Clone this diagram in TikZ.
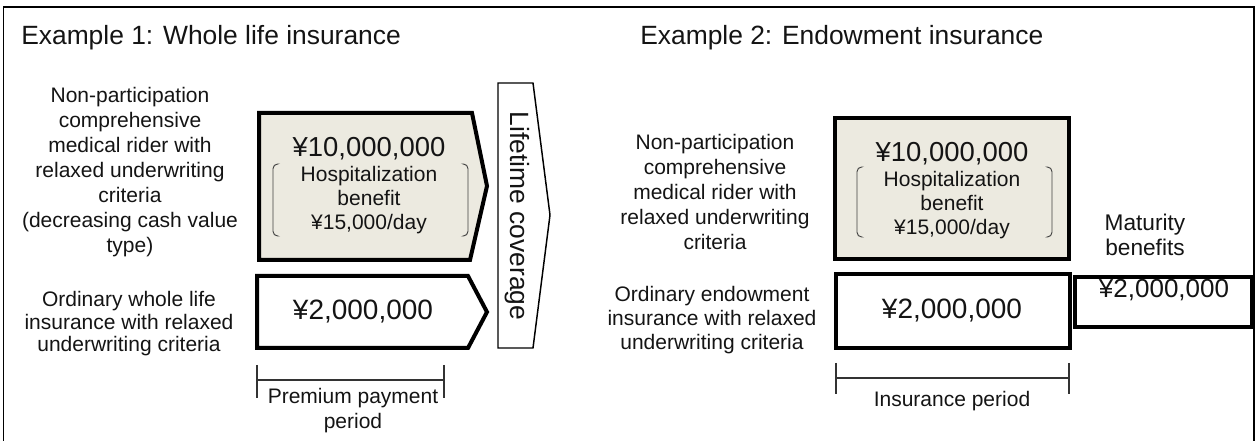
\documentclass[tikz,border=0pt]{standalone}
\usepackage{fontspec}
\setmainfont{Liberation Sans}
\definecolor{beige}{RGB}{236,234,224}
\definecolor{ink}{RGB}{20,20,20}
\begin{document}
\begin{tikzpicture}[x=0.75pt,y=-0.75pt,
  every node/.style={inner sep=0pt, text=ink},
  titlelbl/.style={anchor=west, font=\fontsize{19.8}{23}\selectfont},
  sidelbl/.style={align=center, font=\fontsize{15.75}{18.75}\selectfont},
  sidelbltight/.style={align=center, font=\fontsize{15.75}{16.9}\selectfont},
  sidelblmid/.style={align=center, font=\fontsize{15.75}{18}\selectfont},
  amount/.style={font=\fontsize{20.6}{24}\selectfont},
  amountb/.style={font=\fontsize{21}{24}\selectfont},
  innerlbl/.style={align=center, font=\fontsize{15.75}{18}\selectfont},
  heavybox/.style={draw=black, line width=3pt, line join=miter},
  thinbox/.style={draw=black, line width=1.1pt, line join=miter},
  paren/.style={draw=black!75, line width=0.7pt, rounded corners=3.5pt},
  spanline/.style={draw=black!80, line width=0.8pt}
]
\useasboundingbox (0,0) rectangle (1256,441);
% outer frame
\draw[line width=1.1pt] (3.5,470) -- (3.5,7) -- (1254,7) -- (1254,470);

% ---------- Example 1 ----------
\node[titlelbl] (t1) at (21,38) {Example 1: Whole life insurance};

\node[sidelbl] (d1) at (130,172) {Non-participation\\comprehensive\\medical rider with\\relaxed underwriting\\criteria\\(decreasing cash value\\type)};
\node[sidelbltight] (d2) at (129,324) {Ordinary whole life\\insurance with relaxed\\underwriting criteria};

\draw[heavybox, fill=beige] (259,113) -- (472,113) -- (487,186) -- (470,260) -- (259,260) -- cycle;
\node[amount] (a1) at (369,149) {¥10,000,000};
\node[innerlbl] (h1) at (369,200) {Hospitalization\\benefit\\¥15,000/day};
\draw[paren] (277,164) -- (273,164) -- (273,236) -- (277,236);
\draw[paren] (464,164) -- (468,164) -- (468,236) -- (464,236);

\draw[heavybox, fill=white] (257,276) -- (468,276) -- (487,312) -- (468,348) -- (257,348) -- cycle;
\node[amountb] (b1) at (363,312) {¥2,000,000};

\draw[thinbox, fill=white] (498,83) -- (533,83) -- (550,215) -- (533,348) -- (498,348) -- cycle;
\node[rotate=-90, font=\fontsize{19.8}{23}\selectfont] (lc) at (517,216) {Lifetime coverage};

\coordinate (p1a) at (257,365); \coordinate (p1b) at (257,398);
\coordinate (p1c) at (444,365); \coordinate (p1d) at (444,398);
\coordinate (p1l) at (257,380); \coordinate (p1r) at (444,380);
\draw[spanline] (p1a) -- (p1b);
\draw[spanline] (p1c) -- (p1d);
\draw[spanline] (p1l) -- (p1r);
\node[sidelbl] (pp) at (353,411) {Premium payment\\period};

% ---------- Example 2 ----------
\node[titlelbl] (t2) at (640,38) {Example 2: Endowment insurance};

\node[sidelbl] (e1) at (715,192) {Non-participation\\comprehensive\\medical rider with\\relaxed underwriting\\criteria};
\node[sidelblmid] (e2) at (712,320) {Ordinary endowment\\insurance with relaxed\\underwriting criteria};

\draw[heavybox, fill=beige] (835,118) rectangle (1069,259);
\node[amount] (a2) at (952,154) {¥10,000,000};
\node[innerlbl] (h2) at (952,205) {Hospitalization\\benefit\\¥15,000/day};
\draw[paren] (861,167) -- (857,167) -- (857,237) -- (861,237);
\draw[paren] (1048,167) -- (1052,167) -- (1052,237) -- (1048,237);

\draw[heavybox, fill=white] (836,274) rectangle (1070,348);
\node[amountb] (b2) at (952,311) {¥2,000,000};

\node[align=center, font=\fontsize{17}{18.75}\selectfont] (mb) at (1145,235) {Maturity\\benefits};
\draw[heavybox, fill=white] (1075,277) rectangle (1252,327);
\node[font=\fontsize{19.5}{22}\selectfont] (m2) at (1164,290) {¥2,000,000};

\coordinate (p2a) at (836,363); \coordinate (p2b) at (836,394);
\coordinate (p2c) at (1069,363); \coordinate (p2d) at (1069,394);
\coordinate (p2l) at (836,378); \coordinate (p2r) at (1069,378);
\draw[spanline] (p2a) -- (p2b);
\draw[spanline] (p2c) -- (p2d);
\draw[spanline] (p2l) -- (p2r);
\node[sidelbl] (ip) at (952,401) {Insurance period};
\end{tikzpicture}
\end{document}
